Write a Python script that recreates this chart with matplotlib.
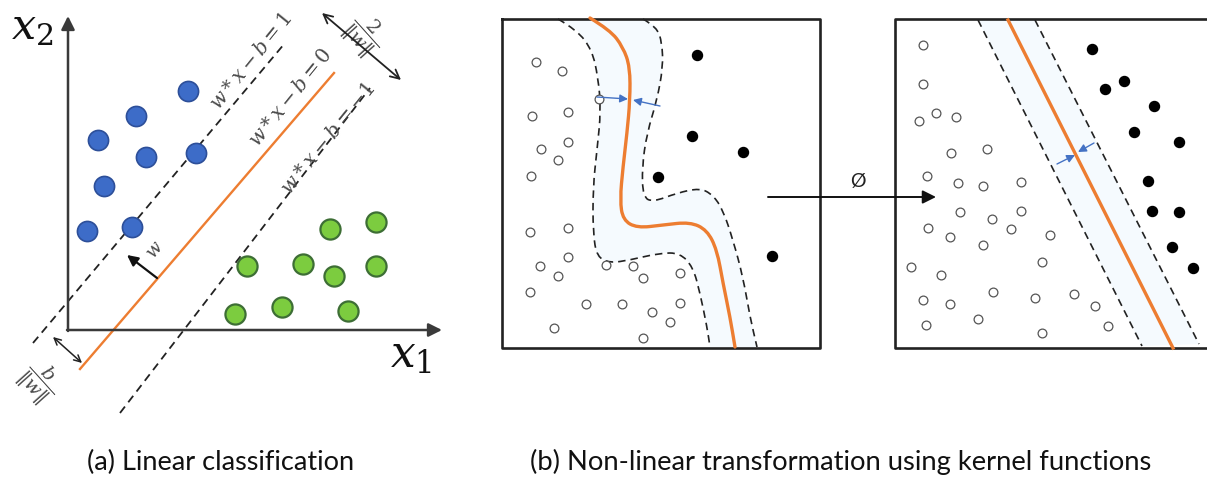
import numpy as np
import matplotlib
matplotlib.use('Agg')
import matplotlib.pyplot as plt
from matplotlib.patches import Polygon, PathPatch
from matplotlib.path import Path

plt.rcParams['mathtext.fontset'] = 'dejavuserif'

W, H = 1207, 487

# ---- panel (a): linear classification (pixel coords) ----
blue_x = [188, 136, 98, 146, 196, 104, 87, 132]
blue_y = [91, 116, 140, 157, 153, 186, 231, 227]
green_x = [376, 330, 247, 303, 334, 376, 235, 282, 348]
green_y = [222, 229, 266, 264, 276, 266, 314, 307, 311]

# hyperplanes: (x0, y0, x1, y1)
plane_pos = (33, 343, 285, 43)
plane_mid = (80, 369, 334, 73)
plane_neg = (120, 413, 370, 88)

# ---- panel (b) left: curved boundary ----
curve_mid_x = [590, 610, 623, 630, 630, 627, 623, 620, 623, 637, 663, 690, 707, 717, 723, 730, 735]
curve_mid_y = [18, 30, 47, 67, 100, 133, 167, 200, 220, 228, 225, 222, 230, 250, 283, 317, 347]
curve_lo_x = [558, 577, 592, 598, 601, 597, 593, 593, 597, 610, 630, 660, 680, 693, 700, 707, 710]
curve_lo_y = [19, 30, 50, 77, 110, 150, 187, 233, 257, 263, 260, 253, 253, 267, 293, 327, 347]
curve_hi_x = [643, 657, 662, 663, 657, 647, 642, 643, 653, 677, 700, 713, 723, 733, 743, 750, 757]
curve_hi_y = [19, 27, 43, 67, 100, 133, 167, 197, 202, 193, 188, 195, 210, 240, 277, 317, 347]

open_b1_x = [536, 562, 599, 532, 568, 541, 568, 558, 531, 530, 568, 568, 540, 558, 606, 633,
             643, 680, 530, 586, 622, 652, 680, 670, 554, 643]
open_b1_y = [62, 71, 99, 116, 112, 149, 142, 160, 176, 232, 228, 257, 266, 276, 265, 266,
             278, 273, 292, 304, 304, 312, 303, 322, 328, 338]
fill_b1_x = [697, 692, 743, 658, 772]
fill_b1_y = [55, 136, 152, 177, 256]

# ---- panel (b) right: after mapping ----
line_mid = (1008, 20, 1173, 348)
line_lo = (978, 20, 1142, 346)
line_hi = (1035, 20, 1199, 344)

open_b2_x = [923, 923, 919, 936, 956, 951, 987, 927, 958, 983, 1021, 960, 992, 1021, 928, 950,
             1011, 983, 1050, 911, 941, 1042, 923, 950, 993, 1035, 1074, 1095, 926, 978, 1042, 1108]
open_b2_y = [45, 84, 121, 113, 117, 153, 149, 176, 183, 186, 182, 212, 219, 211, 228, 237,
             229, 245, 235, 267, 275, 262, 300, 304, 292, 298, 294, 306, 325, 319, 333, 326]
fill_b2_x = [1092, 1105, 1124, 1154, 1134, 1179, 1148, 1152, 1179, 1172, 1193]
fill_b2_y = [49, 89, 81, 106, 132, 142, 181, 211, 212, 247, 268]

captions = ['(a) Linear classification', '(b) Non-linear transformation using kernel functions']

ORANGE = '#ed7d31'
ARROW_BLUE = '#4472c4'
DARK = '#3a3a3a'
GRAY_TXT = '#4a4a4a'
MARGIN_FILL = '#f5fafe'
DASH = (0, (4.5, 3))

fig = plt.figure(figsize=(W / 100, H / 100), dpi=100)
ax = fig.add_axes([0, 0, 1, 1])
ax.set_xlim(0, W)
ax.set_ylim(H, 0)
ax.axis('off')
renderer = fig.canvas.get_renderer()


def fit_text(x, y, s, width, rotation=0, **kw):
    """Place text and scale its font so the unrotated width matches `width` px."""
    t = ax.text(x, y, s, ha='center', va='center', fontsize=12, **kw)
    w = t.get_window_extent(renderer).width
    t.set_fontsize(12 * width / w)
    t.set_rotation(rotation)
    return t


def arrow(p_from, p_to, color=DARK, lw=1.5, style='-|>', ms=14, z=4):
    ax.annotate('', xy=p_to, xytext=p_from, zorder=z,
                arrowprops=dict(arrowstyle=style, color=color, lw=lw,
                                mutation_scale=ms, shrinkA=0, shrinkB=0))


def smooth_path(xs, ys):
    # quadratic bezier through the midpoints of the traced points
    pts = np.column_stack([xs, ys]).astype(float)
    verts = [pts[0]]
    codes = [Path.MOVETO]
    for i in range(1, len(pts) - 1):
        verts += [pts[i], (pts[i] + pts[i + 1]) / 2]
        codes += [Path.CURVE3, Path.CURVE3]
    verts.append(pts[-1])
    codes.append(Path.LINETO)
    return Path(verts, codes)


# ===== panel (a) =====
arrow((68, 331), (68, 16), lw=1.8, ms=20)
arrow((67, 330), (442, 330), lw=1.8, ms=20)
fit_text(32, 27, r'$x_2$', 45, color='#111111')
fit_text(411, 355, r'$x_1$', 45, color='#111111')

ax.plot(plane_pos[::2], plane_pos[1::2], ls=DASH, color='#222222', lw=1.3)
ax.plot(plane_neg[::2], plane_neg[1::2], ls=DASH, color='#222222', lw=1.3)
ax.plot(plane_mid[::2], plane_mid[1::2], color=ORANGE, lw=1.7)

ax.scatter(blue_x, blue_y, s=210, c='#3d6cc8', edgecolors='#2d4f99', linewidths=1.2, zorder=3)
ax.scatter(green_x, green_y, s=210, c='#7ccc3f', edgecolors='#3d6e35', linewidths=1.6, zorder=3)

ang = 51
fit_text(251, 61, r'$w * x - b = 1$', 118, rotation=ang, color=GRAY_TXT, rotation_mode='anchor')
fit_text(291, 98, r'$w * x - b = 0$', 120, rotation=ang, color=GRAY_TXT, rotation_mode='anchor')
fit_text(329, 139, r'$w * x - b = -1$', 138, rotation=ang, color=GRAY_TXT, rotation_mode='anchor')

# normal vector w
arrow((157, 278), (127, 255), color='#111111', lw=1.6, ms=16)
ax.text(155, 250, r'$w$', fontsize=13, rotation=ang, ha='center', va='center', color=GRAY_TXT)

# offset b/||w||
arrow((53, 337), (82, 363), color='#222222', lw=1.1, style='<->', ms=12)
ax.text(39, 382, r'$\dfrac{b}{\Vert w\Vert}$', fontsize=14, rotation=-48, ha='center',
        va='center', color=GRAY_TXT)

# margin 2/||w||
arrow((322, 13), (401, 80), color='#222222', lw=1.3, style='<->', ms=16)
ax.text(364, 35, r'$\dfrac{2}{\Vert w\Vert}$', fontsize=14, rotation=-48, ha='center',
        va='center', color=GRAY_TXT)

# ===== panel (b) left =====
ax.add_patch(Polygon(np.column_stack([curve_lo_x + curve_hi_x[::-1], curve_lo_y + curve_hi_y[::-1]]),
                     closed=True, facecolor=MARGIN_FILL, edgecolor='none', zorder=0))
ax.plot([502, 820, 820, 502, 502], [19, 19, 348, 348, 19], color='#222222', lw=1.9, zorder=2)
for cx, cy in [(curve_lo_x, curve_lo_y), (curve_hi_x, curve_hi_y)]:
    ax.add_patch(PathPatch(smooth_path(cx, cy), fill=False, ls=DASH, edgecolor='#222222',
                           lw=1.2, zorder=2))
ax.add_patch(PathPatch(smooth_path(curve_mid_x, curve_mid_y), fill=False, edgecolor=ORANGE,
                       lw=2.4, capstyle='round', zorder=2))
ax.scatter(open_b1_x, open_b1_y, s=40, facecolors='white', edgecolors='#555555', linewidths=0.9, zorder=3)
ax.scatter(fill_b1_x, fill_b1_y, s=52, c='black', zorder=3)
arrow((597, 97), (628, 99), color=ARROW_BLUE, lw=1.0, ms=12)
arrow((660, 106), (633, 100), color=ARROW_BLUE, lw=1.0, ms=12)

# mapping arrow
arrow((768, 197), (936, 197), color='#111111', lw=1.4, ms=20)
ax.text(858, 181, '\u00d8', fontsize=14, ha='center', va='center', color='#222222',
        family=['Lato', 'DejaVu Sans'])

# ===== panel (b) right =====
xs = [line_lo[0], line_hi[0], line_hi[2], line_lo[2]]
ys = [line_lo[1], line_hi[1], line_hi[3], line_lo[3]]
ax.add_patch(Polygon(np.column_stack([xs, ys]), closed=True, facecolor=MARGIN_FILL,
                     edgecolor='none', zorder=0))
ax.plot([1212, 895, 895, 1212], [19, 19, 348, 348], color='#222222', lw=1.9, zorder=2)
ax.plot(line_lo[::2], line_lo[1::2], ls=DASH, color='#222222', lw=1.2, zorder=2)
ax.plot(line_hi[::2], line_hi[1::2], ls=DASH, color='#222222', lw=1.2, zorder=2)
ax.plot(line_mid[::2], line_mid[1::2], color=ORANGE, lw=2.4, zorder=2)
ax.scatter(open_b2_x, open_b2_y, s=40, facecolors='white', edgecolors='#555555', linewidths=0.9, zorder=3)
ax.scatter(fill_b2_x, fill_b2_y, s=52, c='black', zorder=3)
arrow((1057, 164), (1075, 155), color=ARROW_BLUE, lw=1.0, ms=12)
arrow((1094, 143), (1078, 152), color=ARROW_BLUE, lw=1.0, ms=12)

# ===== captions =====
cap_font = ['Lato', 'DejaVu Sans']
fit_text(221, 462, captions[0], 266, family=cap_font, color='#111111')
fit_text(841, 462, captions[1], 620, family=cap_font, color='#111111')

fig.savefig('out.png', dpi=100)
